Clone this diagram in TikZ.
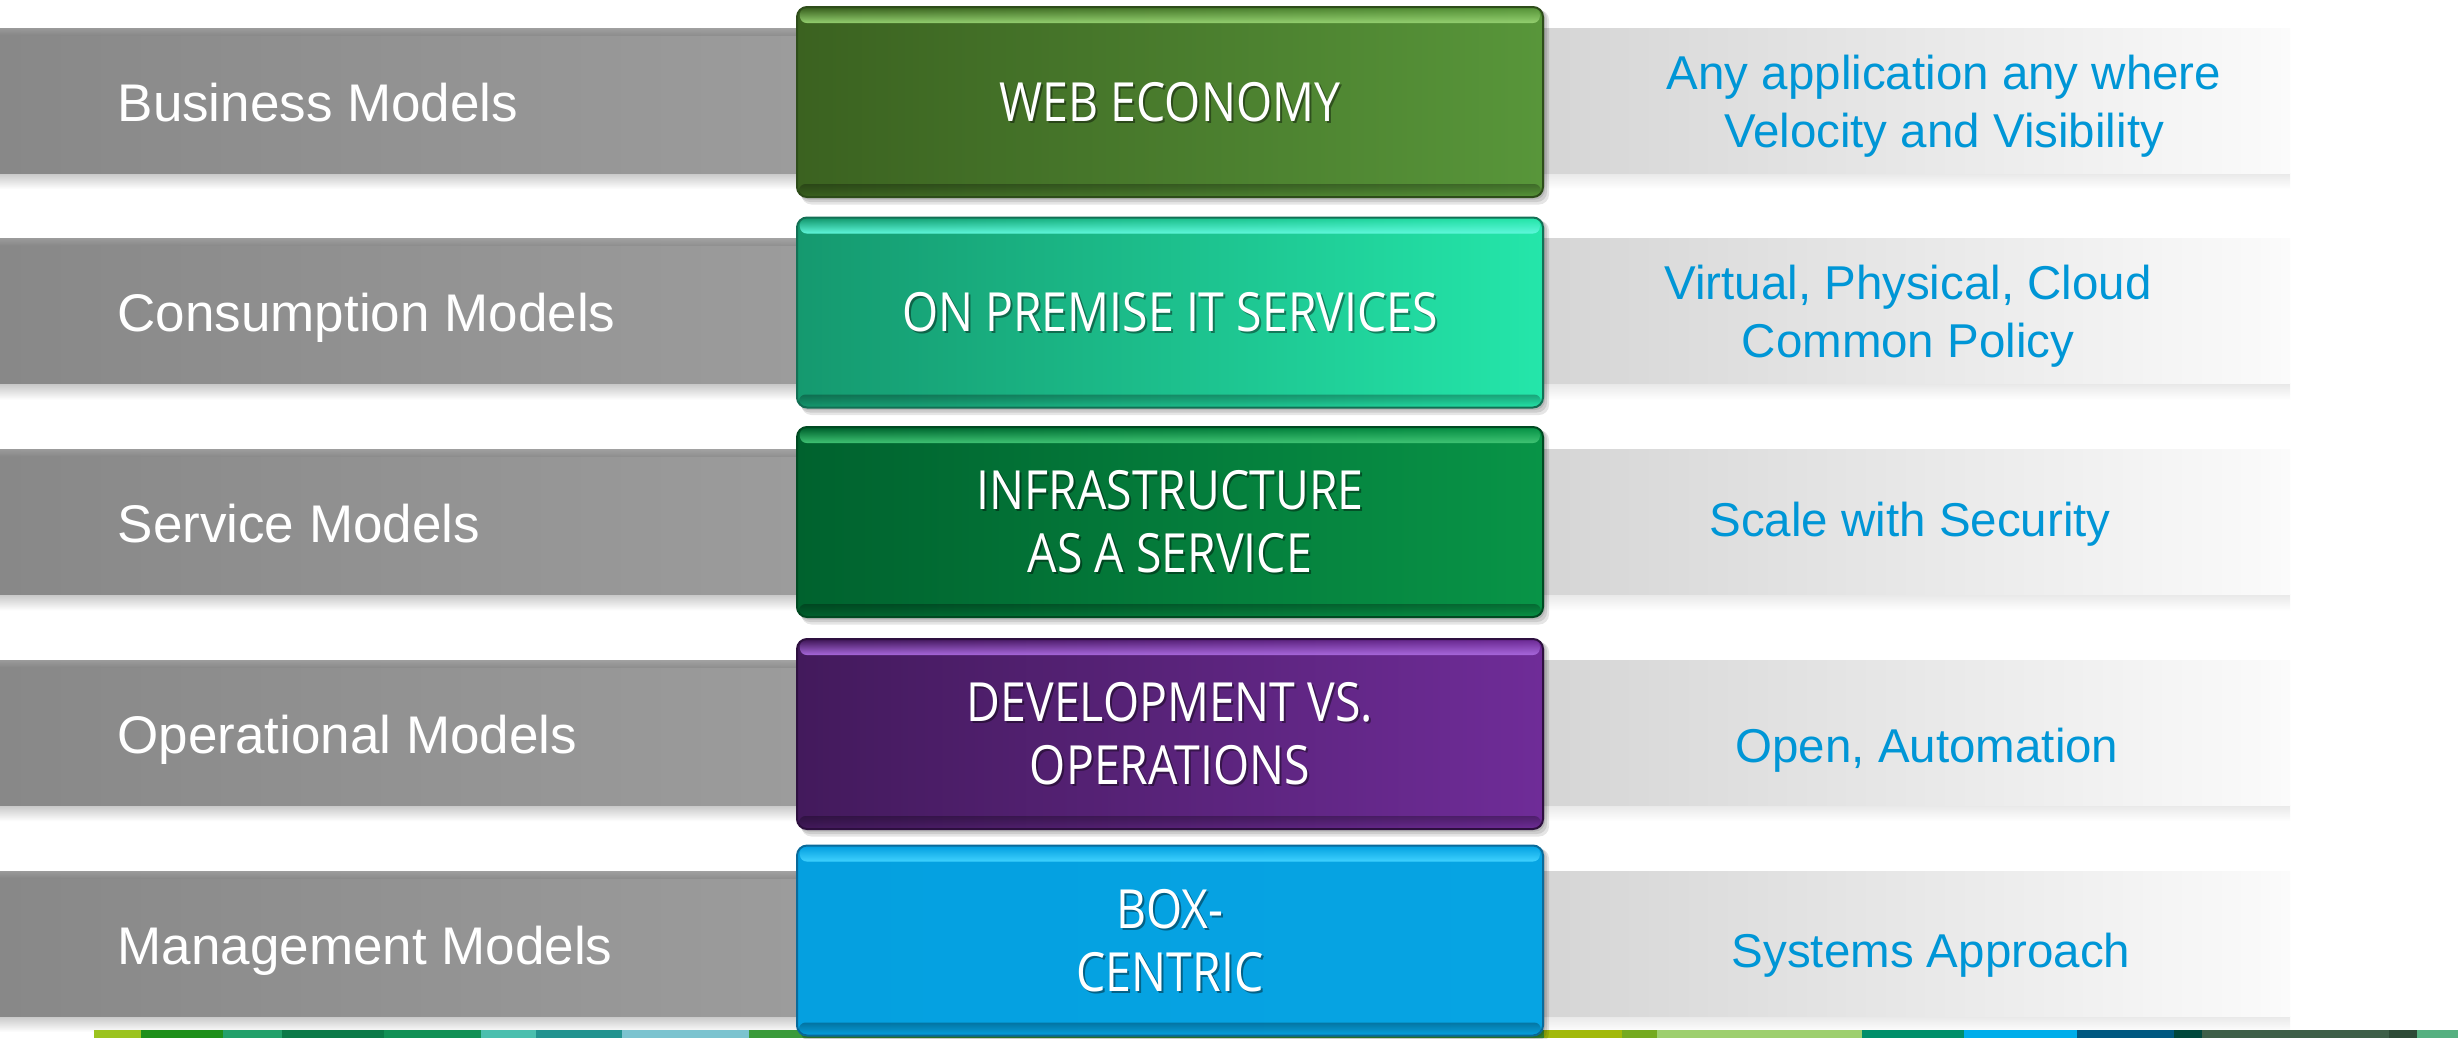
\documentclass[tikz,border=0pt]{standalone}
\usepackage{fontspec}
\setmainfont{Liberation Sans}
\newfontfamily\boxfont[FakeStretch=0.86]{Open Sans}
\usetikzlibrary{fadings,calc}
\definecolor{lbarL}{HTML}{888888}
\definecolor{lbarR}{HTML}{9C9C9C}
\definecolor{rbarL}{HTML}{D5D5D5}
\definecolor{rbarR}{HTML}{FBFBFB}
\definecolor{rtext}{HTML}{0096D6}
\definecolor{b1L}{HTML}{3B6220}\definecolor{b1R}{HTML}{58963A}\definecolor{b1H}{HTML}{94D070}\definecolor{b1D}{HTML}{2E4D1A}
\definecolor{b2L}{HTML}{15996F}\definecolor{b2R}{HTML}{24E6AA}\definecolor{b2H}{HTML}{60F8DC}\definecolor{b2D}{HTML}{137055}
\definecolor{b3L}{HTML}{00622E}\definecolor{b3R}{HTML}{089447}\definecolor{b3H}{HTML}{40C474}\definecolor{b3D}{HTML}{004A22}
\definecolor{b4L}{HTML}{431A5C}\definecolor{b4R}{HTML}{6F2C98}\definecolor{b4H}{HTML}{A868DC}\definecolor{b4D}{HTML}{2E1040}
\definecolor{b5L}{HTML}{05A0E0}\definecolor{b5R}{HTML}{06A4E3}\definecolor{b5H}{HTML}{40D2FF}\definecolor{b5D}{HTML}{0A6A9A}
\definecolor{s01}{HTML}{9BC31F}\definecolor{s02}{HTML}{1E8F1A}\definecolor{s03}{HTML}{22A06A}
\definecolor{s04}{HTML}{0B7A48}\definecolor{s05}{HTML}{119055}\definecolor{s06}{HTML}{4ABFAE}
\definecolor{s07}{HTML}{22938F}\definecolor{s08}{HTML}{7BC3CF}\definecolor{s09}{HTML}{3A9A3A}
\definecolor{s10}{HTML}{A2B90A}\definecolor{s11}{HTML}{74AA20}\definecolor{s12}{HTML}{9DCF6E}
\definecolor{s13}{HTML}{008F6A}\definecolor{s14}{HTML}{00ADEA}\definecolor{s15}{HTML}{005880}
\definecolor{s16}{HTML}{00473C}\definecolor{s17}{HTML}{3E5F48}\definecolor{s18}{HTML}{2D4A36}
\definecolor{s19}{HTML}{55B080}
\tikzset{
  boxstyle/.style={rounded corners=3pt, minimum width=223.8pt, minimum height=57pt, inner sep=0pt, line width=0.6pt},
  boxtext/.style={font=\boxfont\fontsize{16.2}{18.9}\selectfont, text=white, inner sep=0pt, anchor=base},
  lefttext/.style={font=\fontsize{15.9}{19}\selectfont, text=white, inner sep=0pt, anchor=base west},
  righttext/.style={font=\fontsize{14.25}{17.4}\selectfont, text=rtext, inner sep=0pt, anchor=base},
}
\newcommand\gbox[6]{%
  \foreach \k in {1,2,3}{\fill[black,opacity=0.1,rounded corners=3pt] (797+\k*1.5,#2-95+\k) rectangle (1543+\k*2,#2+95+\k*2.5);}
  \node[boxstyle,left color=#3,right color=#4,draw=#6] (#1) at (1170,#2) {};
  \fill[#5,path fading=north,rounded corners=2pt] ($(#1.north west)+(4,2)$) rectangle ($(#1.north east)+(-4,17)$);
  \fill[black,opacity=0.28,path fading=south,rounded corners=2pt] ($(#1.south west)+(3,-14)$) rectangle ($(#1.south east)+(-3,-1)$);
}
\newcommand\btext[3]{%
  \node[boxtext,text=black,text opacity=0.4] at ($(#2)+(2,2)$) {#3};
  \node[boxtext] (#1) at (#2) {#3};
}
\begin{document}
\begin{tikzpicture}[x=0.3pt,y=-0.3pt]
\useasboundingbox (0,0) rectangle (2458,1038);
\fill[white] (0,0) rectangle (2458,1038);
% row bars
\foreach \t in {28,238.75,449.5,660.25,871}{
  \shade[top color=black!22, bottom color=white] (0,\t+145) rectangle (800,\t+161);
  \shade[top color=black!9, bottom color=white] (1540,\t+145) rectangle (2290,\t+161);
  \shade[left color=lbarL, right color=lbarR] (0,\t) rectangle (800,\t+145);
  \shade[top color=lbarL!75!white, bottom color=lbarL, opacity=0.6] (0,\t) rectangle (800,\t+7);
  \shade[left color=rbarL, right color=rbarR] (1540,\t) rectangle (2290,\t+145);
}
% bottom strip
\foreach \a/\b/\c in {94/141/s01,141/223/s02,223/282/s03,282/384/s04,384/481/s05,481/536/s06,536/622/s07,622/749/s08,749/1544/s09,1544/1622/s10,1622/1657/s11,1657/1862/s12,1862/1964/s13,1964/2077/s14,2077/2174/s15,2174/2202/s16,2202/2389/s17,2389/2417/s18,2417/2458/s19}{
  \fill[\c] (\a,1030) rectangle (\b,1038);
}
% boxes
\gbox{b1}{102}{b1L}{b1R}{b1H}{b1D}
\gbox{b2}{312.5}{b2L}{b2R}{b2H}{b2D}
\gbox{b3}{522}{b3L}{b3R}{b3H}{b3D}
\gbox{b4}{734}{b4L}{b4R}{b4H}{b4D}
\gbox{b5}{940.5}{b5L}{b5R}{b5H}{b5D}
% box texts
\btext{t1}{1170,121.25}{WEB ECONOMY}
\btext{t2}{1170,331.75}{ON PREMISE IT SERVICES}
\btext{t3}{1170,509.75}{\begin{tabular}[t]{@{}c@{}}INFRASTRUCTURE\\AS A SERVICE\end{tabular}}
\btext{t4}{1170,721.75}{\begin{tabular}[t]{@{}c@{}}DEVELOPMENT VS.\\OPERATIONS\end{tabular}}
\btext{t5}{1170,928.25}{\begin{tabular}[t]{@{}c@{}}BOX-\\CENTRIC\end{tabular}}
% left labels
\node[lefttext] (l1) at (117,121) {Business Models};
\node[lefttext] (l2) at (117,331.75) {Consumption Models};
\node[lefttext] (l3) at (117,542.5) {Service Models};
\node[lefttext] (l4) at (117,753.25) {Operational Models};
\node[lefttext] (l5) at (117,964) {Management Models};
% right labels
\node[righttext] (r1) at (1944,89) {\begin{tabular}[t]{@{}c@{}}Any application any where\\Velocity and Visibility\end{tabular}};
\node[righttext] (r2) at (1908,299) {\begin{tabular}[t]{@{}c@{}}Virtual, Physical, Cloud\\Common Policy\end{tabular}};
\node[righttext] (r3) at (1910,536) {Scale with Security};
\node[righttext] (r4) at (1927,762) {Open, Automation};
\node[righttext] (r5) at (1931,967) {Systems Approach};
\end{tikzpicture}
\end{document}
